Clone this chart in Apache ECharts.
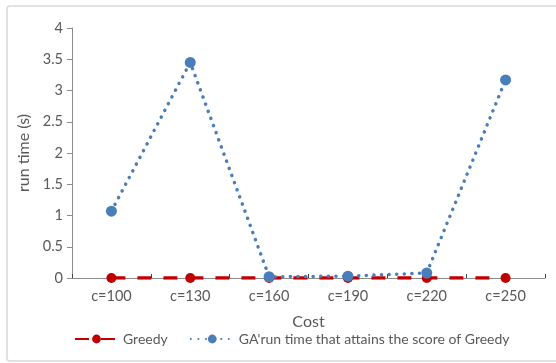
<!DOCTYPE html>
<html>
<head>
<meta charset="utf-8">
<script src="https://cdn.jsdelivr.net/npm/echarts@6/dist/echarts.min.js"></script>
<style>
  html, body { margin: 0; padding: 0; background: #fff; }
  #chart { width: 556px; height: 363px; }
</style>
</head>
<body>
<div id="chart"></div>
<script>
// categories on the x axis
const costs = ['c=100', 'c=130', 'c=160', 'c=190', 'c=220', 'c=250']
// run time in seconds
const greedyTime = [0, 0, 0, 0, 0, 0]
const gaTime = [1.07, 3.45, 0.02, 0.03, 0.08, 3.17]

const textCol = '#595959'
const axisCol = '#8c8c8c'
const font = 'Lato, "Open Sans", sans-serif'

const myChart = echarts.init(document.getElementById('chart'))
const option = {
  animation: false,
  textStyle: { fontFamily: font },
  graphic: [{
    type: 'rect',
    shape: { x: 7, y: 6, width: 560, height: 355, r: 3 },
    style: { fill: 'none', stroke: '#d9d9d9', lineWidth: 1.5 },
    silent: true
  }],
  grid: {
    left: 72,
    right: 11,
    top: 28,
    bottom: 85
  },
  legend: {
    bottom: 12,
    left: 69,
    itemWidth: 43,
    itemHeight: 11,
    itemGap: 22,
    textStyle: { color: textCol, fontSize: 14, fontFamily: font },
    data: ['Greedy', "GA'run time that attains the score of Greedy"]
  },
  xAxis: {
    type: 'category',
    data: costs,
    name: 'Cost',
    nameLocation: 'middle',
    nameGap: 36,
    nameTextStyle: { color: textCol, fontSize: 16 },
    boundaryGap: true,
    axisLine: { lineStyle: { color: axisCol, width: 1 } },
    axisTick: { show: true, inside: true, length: 4, lineStyle: { color: '#404040' } },
    axisLabel: { color: textCol, fontSize: 14.5, margin: 11 }
  },
  yAxis: {
    type: 'value',
    min: 0,
    max: 4,
    interval: 0.5,
    name: 'run time (s)',
    nameLocation: 'middle',
    nameRotate: 90,
    nameGap: 40,
    nameTextStyle: { color: textCol, fontSize: 16 },
    splitLine: { show: false },
    axisLine: { show: true, lineStyle: { color: axisCol, width: 1 } },
    axisTick: { show: true, length: 5, lineStyle: { color: axisCol } },
    axisLabel: { color: textCol, fontSize: 14.5, margin: 9 }
  },
  series: [
    {
      name: 'Greedy',
      type: 'line',
      data: greedyTime,
      symbol: 'circle',
      symbolSize: 10,
      z: 2,
      itemStyle: { color: '#c00000' },
      lineStyle: { color: '#c00000', width: 3.5, type: [14, 12] }
    },
    {
      name: "GA'run time that attains the score of Greedy",
      type: 'line',
      data: gaTime,
      symbol: 'circle',
      symbolSize: 11,
      z: 3,
      itemStyle: { color: '#4a7ebb' },
      lineStyle: { color: '#4a7ebb', width: 3.5, type: [0.1, 7.5], cap: 'round' }
    }
  ]
}
myChart.setOption(option)
</script>
</body>
</html>
